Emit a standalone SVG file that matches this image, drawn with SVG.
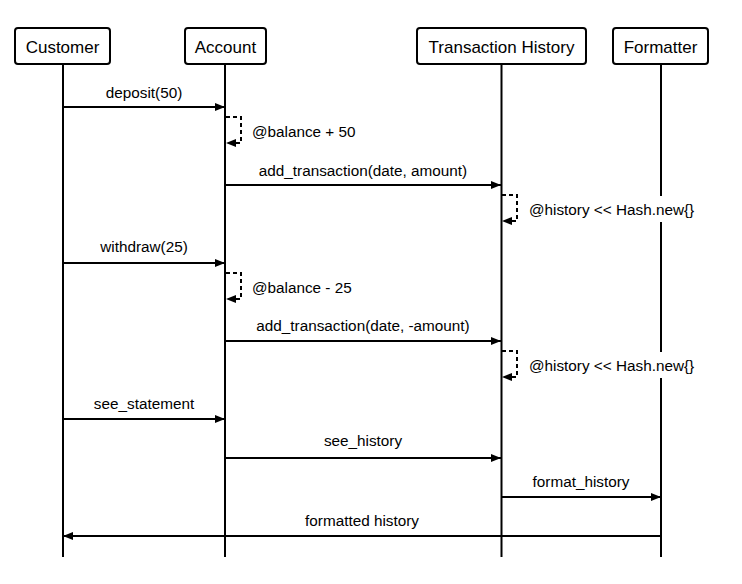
<svg xmlns="http://www.w3.org/2000/svg" width="742" height="584" viewBox="0 0 742 584">
<defs>
<marker id="ah" markerWidth="10" markerHeight="8" refX="10" refY="4" orient="auto" markerUnits="userSpaceOnUse">
<path d="M0,0 L10,4 L0,8 Z" fill="#000"/>
</marker>
<style>
.box{fill:#fff;stroke:#000;stroke-width:2}
.life{stroke:#000;stroke-width:2;fill:none}
.msg{stroke:#000;stroke-width:2;fill:none}
.self{stroke:#000;stroke-width:2;fill:none;stroke-dasharray:4 3}
.bg{fill:#fff}
.hd{font-family:"Liberation Sans",Arial,sans-serif;font-size:17px;text-anchor:middle;dominant-baseline:central}
.lb{font-family:"Liberation Sans",Arial,sans-serif;font-size:15.3px;text-anchor:middle}
.sl{font-family:"Liberation Sans",Arial,sans-serif;font-size:15.3px;dominant-baseline:central}
</style>
</defs>
<rect width="742" height="584" fill="#fff"/>
<g id="lifelines">
<line class="life" x1="63" y1="64" x2="63" y2="557"/>
<line class="life" x1="225" y1="64" x2="225" y2="557"/>
<line class="life" x1="501.5" y1="64" x2="501.5" y2="557"/>
<line class="life" x1="661" y1="64" x2="661" y2="557"/>
</g>
<g id="customer"><rect class="box" x="15" y="28" width="95" height="36" rx="3"/><text class="hd" x="62.5" y="47">Customer</text></g>
<g id="account"><rect class="box" x="185" y="28" width="81" height="36" rx="3"/><text class="hd" x="225.5" y="47">Account</text></g>
<g id="history"><rect class="box" x="417" y="28" width="169" height="36" rx="3"/><text class="hd" x="501.5" y="47">Transaction History</text></g>
<g id="formatter"><rect class="box" x="613" y="28" width="95" height="36" rx="3"/><text class="hd" x="660.5" y="47">Formatter</text></g>
<g id="connectors">
<line class="msg" x1="63" y1="107" x2="225" y2="107" marker-end="url(#ah)"/>
<text class="lb" x="144" y="98">deposit(50)</text>
<path class="self" d="M226,117 H241 V143 H226" marker-end="url(#ah)"/>
<text class="sl" x="252" y="131">@balance + 50</text>
<line class="msg" x1="225" y1="185" x2="501" y2="185" marker-end="url(#ah)"/>
<text class="lb" x="363" y="176">add_transaction(date, amount)</text>
<path class="self" d="M502,195 H517 V221 H502" marker-end="url(#ah)"/>
<rect class="bg" x="526" y="196" width="172" height="26"/>
<text class="sl" x="529" y="209">@history &lt;&lt; Hash.new{}</text>
<line class="msg" x1="63" y1="263" x2="225" y2="263" marker-end="url(#ah)"/>
<text class="lb" x="144" y="252">withdraw(25)</text>
<path class="self" d="M226,273 H241 V299 H226" marker-end="url(#ah)"/>
<text class="sl" x="252" y="287">@balance - 25</text>
<line class="msg" x1="225" y1="341" x2="501" y2="341" marker-end="url(#ah)"/>
<text class="lb" x="363" y="331">add_transaction(date, -amount)</text>
<path class="self" d="M502,351 H517 V377 H502" marker-end="url(#ah)"/>
<rect class="bg" x="526" y="352" width="172" height="26"/>
<text class="sl" x="529" y="365">@history &lt;&lt; Hash.new{}</text>
<line class="msg" x1="63" y1="419" x2="225" y2="419" marker-end="url(#ah)"/>
<text class="lb" x="144" y="409">see_statement</text>
<line class="msg" x1="225" y1="458" x2="501" y2="458" marker-end="url(#ah)"/>
<text class="lb" x="363" y="446">see_history</text>
<line class="msg" x1="501" y1="497" x2="661" y2="497" marker-end="url(#ah)"/>
<text class="lb" x="581" y="487">format_history</text>
<line class="msg" x1="661" y1="536" x2="63" y2="536" marker-end="url(#ah)"/>
<text class="lb" x="362" y="526">formatted history</text>
</g>
</svg>
